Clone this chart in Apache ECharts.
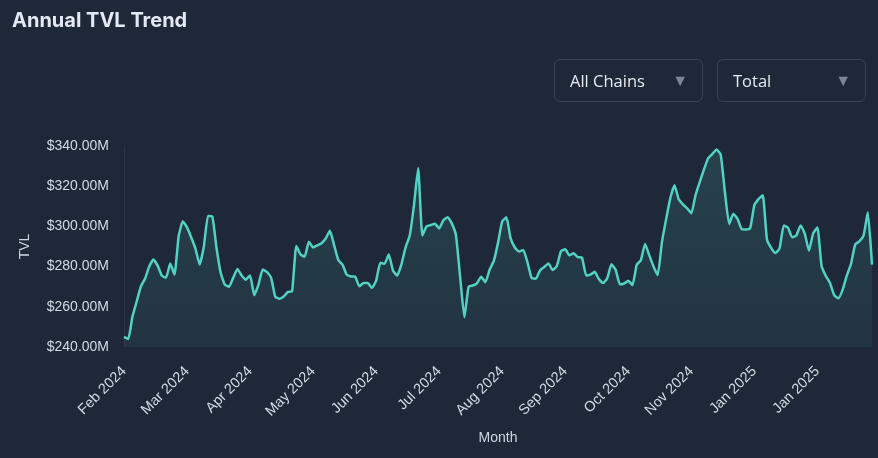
<!DOCTYPE html>
<html>
<head>
<meta charset="utf-8">
<script src="https://cdn.jsdelivr.net/npm/echarts@6/dist/echarts.min.js"></script>
<style>
html,body{margin:0;padding:0;background:#1f2839;}
#wrap{position:relative;width:878px;height:458px;background:#1f2839;overflow:hidden;}
#chart{position:absolute;left:0;top:0;width:878px;height:458px;}
.dd{position:absolute;top:59px;height:43px;width:149px;box-sizing:border-box;border:1px solid #3a4457;border-radius:6px;
 font-family:"Open Sans",sans-serif;font-size:16.5px;color:#e6ebf2;line-height:41px;padding-left:15px;}
.dd span.arr{position:absolute;right:14px;top:0;color:#7d8696;font-size:16px;}
</style>
</head>
<body>
<div id="wrap">
<div id="chart"></div>
<div class="dd" style="left:554px;">All Chains<span class="arr">&#9660;</span></div>
<div class="dd" style="left:717px;">Total<span class="arr">&#9660;</span></div>
</div>
<script>
// tick labels shown along the x axis (one every 15 points)
const tickLabels = ["Feb 2024","Mar 2024","Apr 2024","May 2024","Jun 2024","Jul 2024","Aug 2024","Sep 2024","Oct 2024","Nov 2024","Jan 2025","Jan 2025"];
const yTicks = [240, 260, 280, 300, 320, 340];
// TVL in $M (~every 2 days)
const tvl = [
245,244,255,262.5,270,274,280,283.5,280.5,275.5,
274.5,281.5,276,295,302.5,299.5,294.5,289,281,290,
305.2,305,289.5,277,271,270,274.5,278.8,275.6,273.5,
275.6,265.8,271,278.5,277.4,274.5,265,264,265.1,267.4,
267.7,290.3,286,285,292.4,289.5,290.6,291.6,294,297.8,
290.7,283.3,281,276,275.1,275,270.2,271.8,271.8,269.4,
273,281.9,281.4,286,278.1,275.5,281,289.5,295.5,310.5,
329,295.5,300,300.7,301.3,299,303,304.6,301.5,295.5,
274.5,254.8,270,270.6,271.7,275,272.2,278.4,282.8,291.8,
302.5,304.5,294,289.5,287.5,288.3,282.2,274.3,274,278.1,
279.8,281.6,278.3,280.3,287.7,288.6,285.6,286.6,284.7,284.4,
275.6,276,277.4,273.8,271.8,274.2,281.2,278.4,271.2,271.6,
272.9,270.8,280.8,283.2,291.3,285.6,280.1,275.8,292,303.5,
314,320.5,313.5,311,309,306.5,315.5,322,328.2,333.9,
336,338.3,335.7,317,301.2,306.3,303.8,298.6,298.5,299,
310.6,313.6,315.5,293.5,289.3,286.8,289,300.5,299.4,294.6,
295.5,300.5,296.4,287.9,296.5,299.5,280.3,275.4,271.8,265.8,
264.2,268.4,275.5,281.3,291,292.6,295.5,307,281
];
const days = tvl.map((_, i) => i);

const chart = echarts.init(document.getElementById('chart'), null, {renderer:'canvas'});
chart.setOption({
  backgroundColor: 'transparent',
  animation: false,
  title: {
    text: 'Annual TVL Trend', left: 7, top: 6,
    textStyle: {color:'#e4eaf3', fontSize:20, fontWeight:'bold', fontFamily:'Inter, "Noto Sans", sans-serif'}
  },
  grid: {left:124, right:6, top:146, bottom:111, containLabel:false},
  xAxis: {
    type:'category', data: days, boundaryGap:false,
    name:'Month', nameLocation:'middle', nameGap:84,
    nameTextStyle:{color:'#cfd6e0', fontSize:14, fontFamily:'"Liberation Sans", Arial, sans-serif'},
    axisLine:{show:false}, axisTick:{show:false}, splitLine:{show:false},
    axisLabel:{
      interval:14, rotate:45, margin:22, color:'#d3dae4', fontSize:14.5,
      fontFamily:'"Liberation Sans", Arial, sans-serif',
      formatter:(v, idx) => tickLabels[Math.round(idx/15)] || ''
    }
  },
  yAxis: {
    type:'value', min: yTicks[0], max: yTicks[yTicks.length-1], interval:20,
    name:'TVL', nameLocation:'middle', nameGap:92, nameRotate:90,
    nameTextStyle:{color:'#cfd6e0', fontSize:14, fontFamily:'"Liberation Sans", Arial, sans-serif'},
    axisLine:{show:true, lineStyle:{color:'#2a3446', width:1}}, axisTick:{show:false}, splitLine:{show:false},
    axisLabel:{color:'#d3dae4', fontSize:14, margin:15, fontFamily:'"Liberation Sans", Arial, sans-serif',
      formatter: v => '$' + v.toFixed(2) + 'M'}
  },
  series: [{
    type:'line', data: tvl, smooth:0.15, symbol:'none',
    lineStyle:{color:'#52d2c3', width:2.5},
    areaStyle:{color: new echarts.graphic.LinearGradient(0,0,0,1,[
      {offset:0, color:'rgba(82,210,195,0.22)'},
      {offset:1, color:'rgba(82,210,195,0.10)'}
    ])}
  }]
});
</script>
</body>
</html>
